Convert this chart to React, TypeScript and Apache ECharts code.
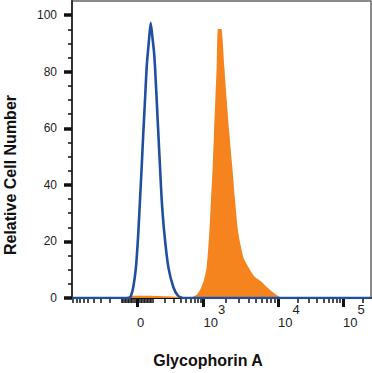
import React, { useEffect, useRef } from "react";
import * as echarts from "echarts";

// ---------- data ----------
const yTickValues = [0, 20, 40, 60, 80, 100];
const yMinorTickValues = [5, 10, 15, 25, 30, 35, 45, 50, 55, 65, 70, 75, 85, 90, 95];

// fluorescence values of ticks (biexponential display)
const xMajorTickValues = [0, 1e3, 1e4, 1e5];
const xMajorTickLabels = ["0", "10|3", "10|4", "10|5"];
const xMinorTickValues = [
  -900, -800, -700, -600, -500, -400, -300, -200, -100,
  -90, -80, -70, -60, -50, -40, -30, -20, -10,
  10, 20, 30, 40, 50, 60, 70, 80, 90,
  100, 200, 300, 400, 500, 600, 700, 800, 900,
  2e3, 3e3, 4e3, 5e3, 6e3, 7e3, 8e3, 9e3,
  2e4, 3e4, 4e4, 5e4, 6e4, 7e4, 8e4, 9e4,
  2e5,
];

// histogram data in display (channel) units, % of max
const isotypeX = [-65, -8, -6, -3.7, -1, 1.3, 3, 4.7, 6.3, 8, 9.7, 12, 13.7, 15.7, 17, 18, 19.7, 21.3, 23, 24.7, 27.3, 31.3, 36.3, 41, 46, 234];
const isotypeY = [0, 0, 0.8, 3.9, 11, 23, 34.7, 46.4, 58.4, 70, 81.8, 91.3, 97.3, 91.3, 87, 81.8, 70, 58.4, 46.4, 34.7, 23, 11, 3.9, 0.8, 0, 0];

const stainedX = [-65, -12, -8, 10, 30, 45, 54, 56, 60, 63, 67, 69.7, 72.3, 74, 75.7, 77, 78.3, 79.7, 81, 84.3, 87.3, 89.7, 92.3, 95.3, 98, 101.3, 106.3, 111.3, 118, 124.7, 129.7, 134, 138, 142, 146, 234];
const stainedY = [0, 0, 0.7, 0.8, 0.6, 0.3, 0, 0.4, 1.2, 2.8, 6.4, 11, 23, 34.7, 46.4, 58.4, 70, 81.8, 95.1, 95.1, 81.8, 70, 58.4, 46.4, 34.7, 23, 14.5, 11, 7.4, 5.7, 3.9, 2.6, 1.5, 0.5, 0, 0];

// ---------- biexponential-like display transform for the axis ----------
function toDisplay(v: number): number {
  const a = Math.abs(v);
  const s = v < 0 ? -1 : 1;
  if (a <= 1000) return s * 66.5 * Math.asinh(a / 160) / Math.asinh(1000 / 160);
  if (a <= 1e4) return s * (66.5 + 74.5 * Math.log10(a / 1e3));
  return s * (141 + 65 * Math.log10(a / 1e4));
}

const X_MIN = -65;
const X_MAX = 234;
const FONT = "'Liberation Sans', Arial, Helvetica, sans-serif";

export default function App() {
  const ref = useRef<HTMLDivElement>(null);

  useEffect(() => {
    if (!ref.current) return;
    const chart = echarts.init(ref.current, undefined, { renderer: "svg" });

    const majorDisp = xMajorTickValues.map(toDisplay);
    const minorDisp = xMinorTickValues.map(toDisplay).filter((d) => d > X_MIN && d < X_MAX);

    const option: any = {
      animation: false,
      backgroundColor: "#fff",
      grid: {
        left: 72,
        right: 1,
        top: 1,
        bottom: 75,
        show: true,
        borderColor: "#666",
        borderWidth: 1.5,
        backgroundColor: "transparent",
      },
      xAxis: [
        {
          type: "value",
          min: X_MIN,
          max: X_MAX,
          splitLine: { show: false },
          axisLine: { show: true, onZero: false, lineStyle: { color: "#111", width: 2 } },
          axisTick: {
            show: true,
            customValues: majorDisp,
            length: 9,
            lineStyle: { color: "#111", width: 3 },
          },
          axisLabel: {
            show: true,
            customValues: majorDisp,
            margin: 5,
            align: "left",
            formatter: (val: number) => {
              let idx = 0;
              majorDisp.forEach((d, i) => {
                if (Math.abs(d - val) < 0.01) idx = i;
              });
              const lab = xMajorTickLabels[idx];
              if (lab.indexOf("|") < 0) return "{b|" + lab + "}";
              const [b, s] = lab.split("|");
              return "{b|" + b + "}{s|" + s + "}";
            },
            rich: {
              b: { fontSize: 13, fontFamily: FONT, color: "#222", lineHeight: 38, verticalAlign: "middle" },
              s: { fontSize: 13, fontFamily: FONT, color: "#222", lineHeight: 11, verticalAlign: "top" },
            },
          },
        },
        {
          type: "value",
          min: X_MIN,
          max: X_MAX,
          position: "bottom",
          splitLine: { show: false },
          axisLine: { show: false, onZero: false },
          axisLabel: { show: false },
          axisTick: {
            show: true,
            customValues: minorDisp,
            length: 5,
            lineStyle: { color: "#111", width: 1.5 },
          },
        },
      ],
      yAxis: [
        {
          type: "value",
          min: 0,
          max: 105,
          splitLine: { show: false },
          axisLine: { show: true, onZero: false, lineStyle: { color: "#333", width: 2 } },
          axisTick: {
            show: true,
            customValues: yTickValues,
            length: 8,
            lineStyle: { color: "#111", width: 3.5 },
          },
          axisLabel: {
            show: true,
            customValues: yTickValues,
            margin: 15,
            fontSize: 12,
            fontFamily: FONT,
            color: "#222",
          },
        },
        {
          type: "value",
          min: 0,
          max: 105,
          position: "left",
          splitLine: { show: false },
          axisLine: { show: false, onZero: false },
          axisLabel: { show: false },
          axisTick: {
            show: true,
            customValues: yMinorTickValues,
            length: 4,
            lineStyle: { color: "#111", width: 1.5 },
          },
        },
      ],
      series: [
        {
          type: "line",
          name: "Glycophorin A",
          xAxisIndex: 0,
          yAxisIndex: 0,
          data: stainedX.map((x, i) => [x, stainedY[i]]),
          showSymbol: false,
          symbol: "none",
          smooth: 0.2,
          lineStyle: { width: 0, color: "#F5841F" },
          areaStyle: { color: "#F5841F", opacity: 1 },
          z: 2,
        },
        {
          type: "line",
          name: "Isotype",
          xAxisIndex: 0,
          yAxisIndex: 0,
          data: isotypeX.map((x, i) => [x, isotypeY[i]]),
          showSymbol: false,
          symbol: "none",
          smooth: 0.2,
          lineStyle: { width: 2.6, color: "#1F4F9E" },
          z: 3,
        },
      ],
      graphic: [
        {
          type: "text",
          x: 10,
          y: 175,
          rotation: Math.PI / 2,
          style: {
            text: "Relative Cell Number",
            font: "bold 16px " + FONT,
            fill: "#111",
            textAlign: "center",
            textVerticalAlign: "middle",
            align: "center",
            verticalAlign: "middle",
          },
        },
        {
          type: "text",
          x: 208,
          y: 360,
          style: {
            text: "Glycophorin A",
            font: "bold 16px " + FONT,
            fill: "#111",
            textAlign: "center",
            textVerticalAlign: "middle",
            align: "center",
            verticalAlign: "middle",
          },
        },
      ],
    };

    chart.setOption(option);
    return () => chart.dispose();
  }, []);

  return (
    <div
      ref={ref}
      style={{ position: "fixed", left: 0, top: 0, width: 372, height: 373, background: "#fff" }}
    />
  );
}
